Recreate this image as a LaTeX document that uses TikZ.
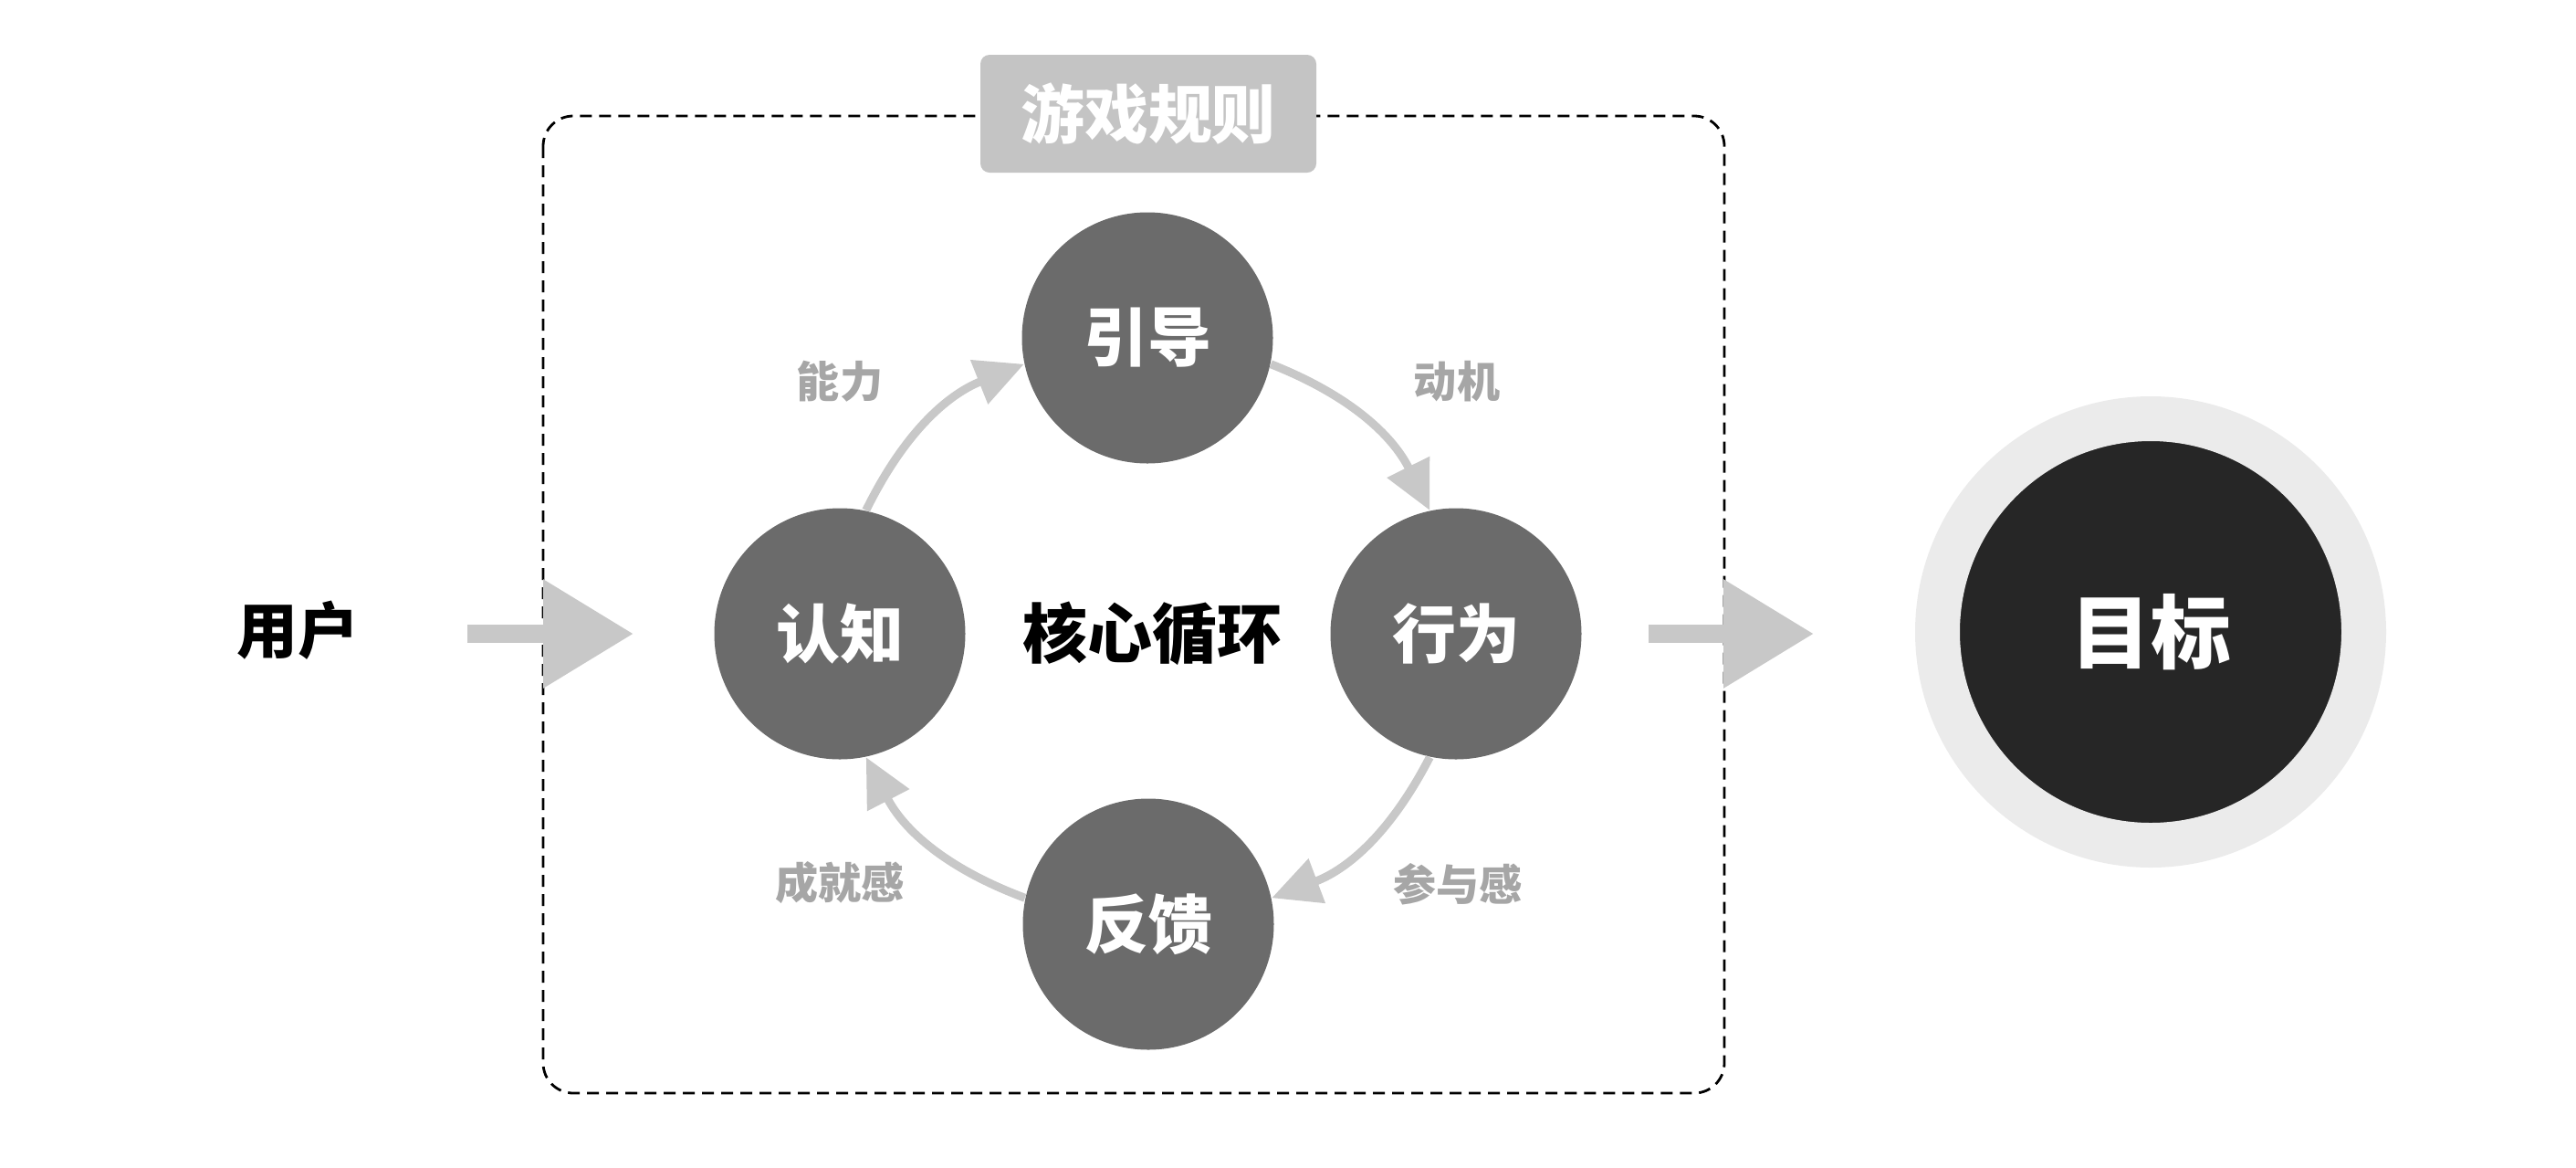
\documentclass[tikz,border=0pt]{standalone}
\usepackage{fontspec}
\setmainfont{Noto Sans CJK SC}
\usetikzlibrary{arrows.meta}
\definecolor{stagegray}{HTML}{6B6B6B}
\definecolor{cyclegray}{HTML}{C8C8C8}
\definecolor{hintgray}{HTML}{A6A6A6}
\definecolor{titlegray}{HTML}{C4C4C4}
\definecolor{ringgray}{HTML}{EBEBEB}
\definecolor{goaldark}{HTML}{262626}
\def\bigfont{\fontsize{19.9}{24}\selectfont\bfseries}
\tikzset{
  stagenode/.style={circle, fill=stagegray, text=white, minimum size=2.75cm, inner sep=0pt, font=\bigfont},
  hintlabel/.style={text=hintgray, inner sep=0pt, font=\fontsize{13.4}{16}\selectfont\bfseries},
  cyclearrow/.style={draw=cyclegray, line width=0.09cm, -{Triangle[length=0.53cm,width=0.5cm]}},
  fatarrow/.style={draw=cyclegray, line width=0.2cm, -{Triangle[length=0.99cm,width=1.14cm]}},
  rulebox/.style={draw=black, line width=0.028cm, dash pattern=on 0.13cm off 0.08cm, rounded corners=0.33cm},
  titlebox/.style={fill=titlegray, text=white, rounded corners=0.1cm, minimum width=3.68cm, minimum height=1.29cm, inner sep=0pt, font=\bigfont}
}

\begin{document}
\begin{tikzpicture}
    \useasboundingbox (0,0) rectangle (28.22,-12.78);
    \draw[rulebox] (5.95,-1.27) rectangle (18.89,-11.97);
    \node[titlebox] (rules) at (12.58,-1.245) {游戏规则};

    \node[inner sep=0pt, font=\fontsize{19}{24}\selectfont\bfseries] (user) at (3.26,-6.90) {用户};
    \coordinate (inbase) at (5.12,-6.94);
    \coordinate (intip) at (6.94,-6.94);
    \draw[fatarrow] (inbase) -- (intip);

    \node[stagenode] (renzhi) at (9.20,-6.94) {认知};
    \node[stagenode] (yindao) at (12.57,-3.70) {引导};
    \node[stagenode] (xingwei) at (15.95,-6.94) {行为};
    \node[stagenode] (fankui) at (12.58,-10.12) {反馈};
    \node[inner sep=0pt, font=\fontsize{20.2}{24}\selectfont\bfseries] (core) at (12.62,-6.94) {核心循环};

    \draw[cyclearrow] (renzhi.78) to[bend left=21] (yindao.192);
    \draw[cyclearrow] (yindao.348) to[bend left=21] (xingwei.102);
    \draw[cyclearrow] (xingwei.258) to[bend left=21] (fankui.12);
    \draw[cyclearrow] (fankui.168) to[bend left=21] (renzhi.282);

    \node[hintlabel] (nengli) at (9.20,-4.18) {能力};
    \node[hintlabel] (dongji) at (15.96,-4.18) {动机};
    \node[hintlabel] (canyu) at (15.97,-9.68) {参与感};
    \node[hintlabel] (chengjiu) at (9.20,-9.67) {成就感};

    \coordinate (outbase) at (18.06,-6.94);
    \coordinate (outtip) at (19.87,-6.94);
    \draw[fatarrow] (outbase) -- (outtip);

    \node[circle, fill=goaldark, draw=ringgray, line width=0.49cm, minimum size=4.67cm, inner sep=0pt,
          text=white, font=\fontsize{25}{30}\selectfont\bfseries] (goal) at (23.56,-6.92) {目标};
\end{tikzpicture}
\end{document}
